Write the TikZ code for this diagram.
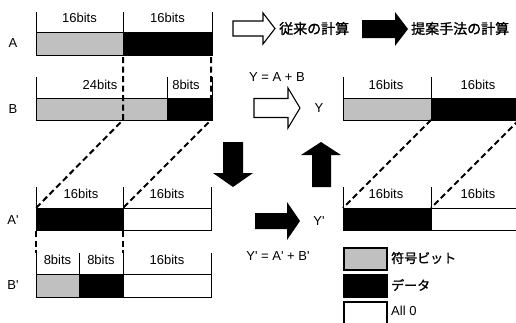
\documentclass[tikz,border=0pt]{standalone}
\usepackage{fontspec}
\setmainfont{Liberation Sans}
\newfontfamily\jp[FakeBold=1.2]{Noto Sans CJK JP}
\definecolor{bargray}{RGB}{192,192,192}
\newcommand{\ap}{\textquotesingle}
\begin{document}
\begin{tikzpicture}[x=1pt,y=-1pt,
 seg/.style={draw=black, line width=0.9pt},
 gr/.style={seg, fill=bargray},
 bk/.style={seg, fill=black},
 wh/.style={seg, fill=white},
 tk/.style={line width=0.9pt},
 dl/.style={line width=2pt, dash pattern=on 6pt off 3.5pt},
 lbl/.style={font=\fontsize{13}{15}\selectfont, inner sep=0pt},
 jl/.style={font=\jp\fontsize{14}{16}\selectfont, inner sep=0pt},
 jls/.style={font=\jp\fontsize{13}{15}\selectfont, inner sep=0pt, anchor=west},
 hollow/.style={draw=black, line width=1.1pt, fill=white, line join=miter},
 solid/.style={fill=black},
 lg/.style={draw=black, line width=1.8pt},
]
\useasboundingbox (0,0) rectangle (516,322);
\clip (0,0) rectangle (516,322);

% ---------- A ----------
\node[lbl] (lA) at (13,43) {A};
\draw[gr] (36,32) rectangle (123,55);
\draw[bk] (123,32) rectangle (212,55);
\draw[tk] (36,12) -- (36,32) (123,12) -- (123,32) (212,12) -- (212,32);
\node[lbl] (tA1) at (79.5,18) {16bits};
\node[lbl] (tA2) at (167.5,18) {16bits};

% ---------- B ----------
\node[lbl] (lB) at (13,109) {B};
\draw[gr] (36,98) rectangle (167,120);
\draw[bk] (167,98) rectangle (212,120);
\draw[tk] (36,77) -- (36,98) (167,77) -- (167,98) (212,77) -- (212,98);
\node[lbl] (tB1) at (100,85) {24bits};
\node[lbl] (tB2) at (186,85) {8bits};

% ---------- A' ----------
\node[lbl] (lAp) at (13,220) {A\ap};
\draw[bk] (36,208) rectangle (123,230);
\draw[wh] (123,208) rectangle (211,230);
\draw[tk] (36,187) -- (36,208) (123,187) -- (123,208) (211,187) -- (211,208);
\node[lbl] (tAp1) at (81,194) {16bits};
\node[lbl] (tAp2) at (167,194) {16bits};

% ---------- B' ----------
\node[lbl] (lBp) at (13,285) {B\ap};
\draw[gr] (36,274) rectangle (79,297);
\draw[bk] (79,274) rectangle (123,297);
\draw[wh] (123,274) rectangle (211,297);
\draw[tk] (36,253) -- (36,274) (79,253) -- (79,274) (123,253) -- (123,274) (211,253) -- (211,274);
\node[lbl] (tBp1) at (57.5,260) {8bits};
\node[lbl] (tBp2) at (101,260) {8bits};
\node[lbl] (tBp3) at (167,260) {16bits};

% ---------- Y ----------
\node[lbl] (lY) at (319,108) {Y};
\draw[gr] (343,98) rectangle (431,120);
\draw[bk] (431,98) rectangle (519,120);
\draw[tk] (343,77) -- (343,98) (431,77) -- (431,98);
\node[lbl] (tY1) at (386,85) {16bits};
\node[lbl] (tY2) at (478,85) {16bits};

% ---------- Y' ----------
\node[lbl] (lYp) at (319,221) {Y\ap};
\draw[bk] (343,208) rectangle (431,230);
\draw[wh] (431,208) rectangle (519,230);
\draw[tk] (343,187) -- (343,208) (431,187) -- (431,208);
\node[lbl] (tYp1) at (386,194) {16bits};
\node[lbl] (tYp2) at (478,194) {16bits};

% ---------- dashed guides ----------
\draw[dl] (123,57) -- (123,120) -- (36,208);
\draw[dl] (211,57) -- (211,120) -- (123,208);
\draw[dl] (36,231) -- (36,253);
\draw[dl] (123,231) -- (123,253);
\draw[dl] (431,120) -- (343,208);
\draw[dl] (519,120) -- (431,208);

% ---------- equations ----------
\node[lbl] (eq1) at (277,77) {Y = A + B};
\node[lbl] (eq2) at (278,256) {Y\ap{} = A\ap{} + B\ap};

% ---------- top legend arrows ----------
\draw[hollow] (233,21) -- (263,21) -- (263,13) -- (275,28.5) -- (263,44) -- (263,36) -- (233,36) -- cycle;
\node[jl, anchor=west] (conv) at (279,28.5) {従来の計算};
\fill[solid] (362,20) -- (395,20) -- (395,12) -- (408,29) -- (395,46) -- (395,38) -- (362,38) -- cycle;
\node[jl, anchor=west] (prop) at (411,28.5) {提案手法の計算};

% ---------- middle arrows ----------
\draw[hollow] (254,98.5) -- (288,98.5) -- (288,88) -- (300,108) -- (288,128) -- (288,117.5) -- (254,117.5) -- cycle;
\fill[solid] (255,213) -- (287,213) -- (287,202) -- (300,221) -- (287,240) -- (287,229) -- (255,229) -- cycle;
\fill[solid] (223,142) -- (243,142) -- (243,173) -- (253,173) -- (233,187) -- (213,173) -- (223,173) -- cycle;
\fill[solid] (321,142) -- (341,155) -- (331,155) -- (331,187) -- (312,187) -- (312,155) -- (301,155) -- cycle;

% ---------- legend ----------
\draw[lg, fill=bargray] (344,248) rectangle (387,270);
\draw[lg, fill=black] (344,275) rectangle (387,297);
\draw[lg, fill=white] (344,302) rectangle (387,324);
\node[jls] (k1) at (391,258) {符号ビット};
\node[jls] (k2) at (391,285) {データ};
\node[lbl, anchor=west] (k3) at (391,311) {All 0};
\end{tikzpicture}
\end{document}
